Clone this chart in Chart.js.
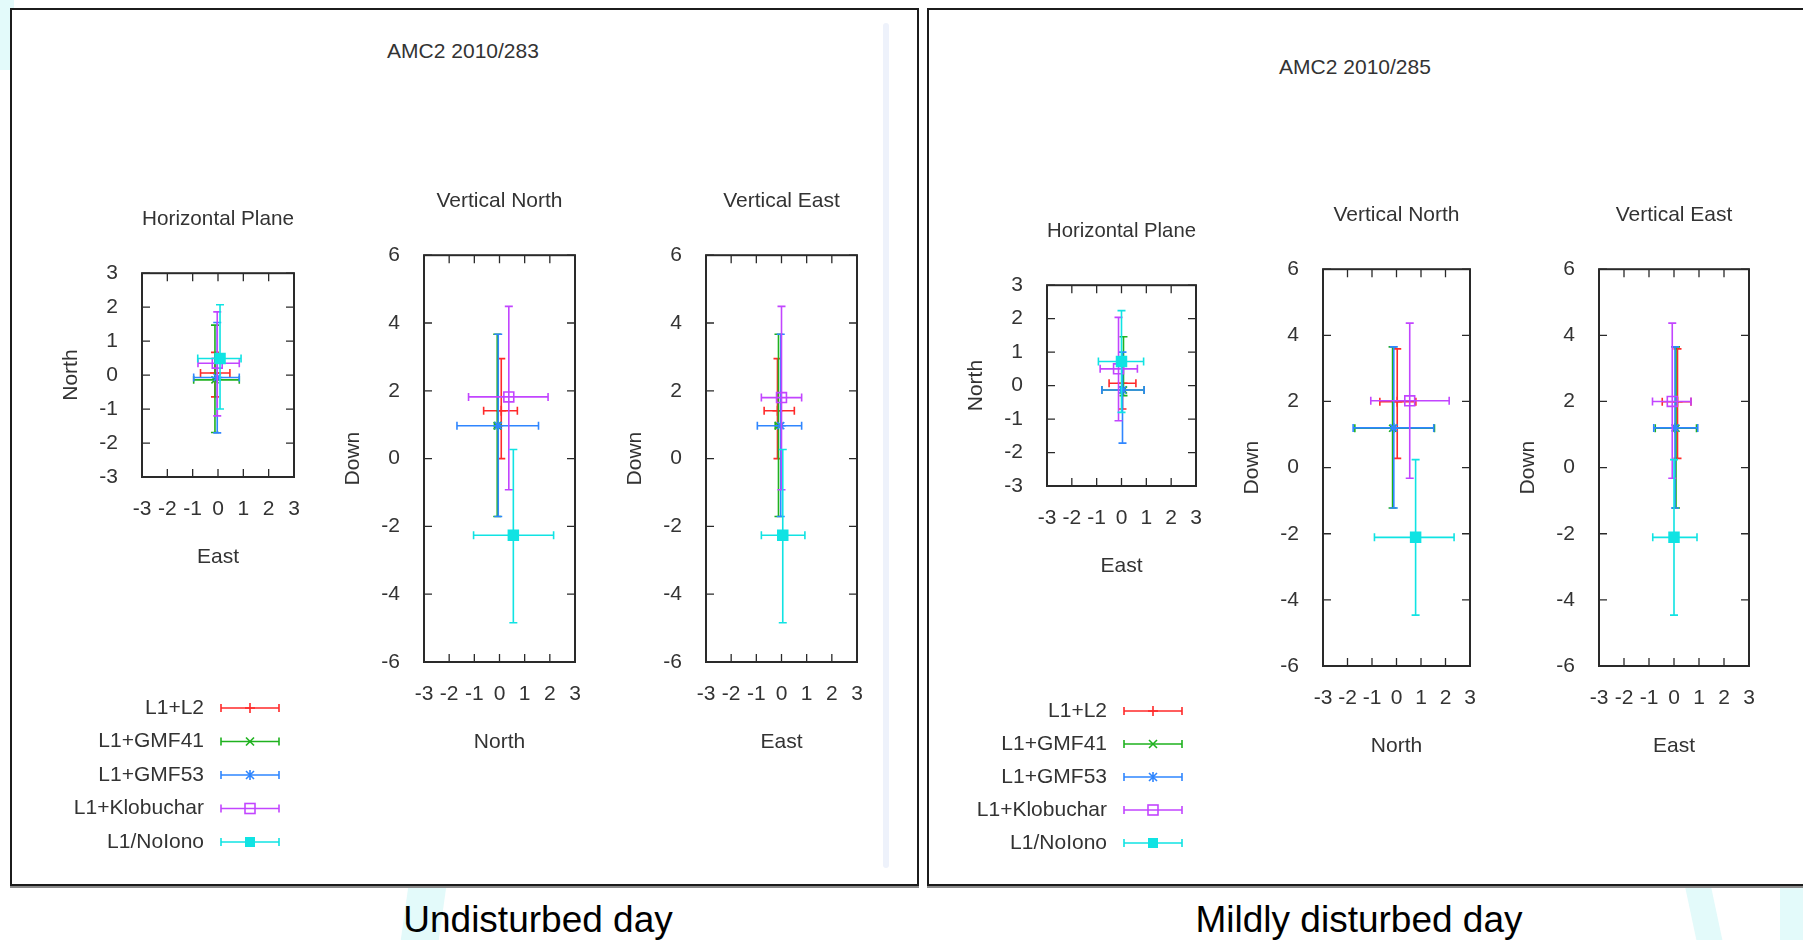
<!DOCTYPE html>
<html>
<head>
<meta charset="utf-8">
<title>AMC2 2010/283 vs 2010/285</title>
<script src="https://cdn.jsdelivr.net/npm/chart.js@4.4.0/dist/chart.umd.min.js"></script>
<style>
  body { margin: 0; width: 1803px; height: 940px; background: #fff; position: relative; overflow: hidden; }
  .panel { position: absolute; box-sizing: border-box; border: 2px solid #1c1c1c; box-shadow: 0 2px 0 #8a8a8a; background: #fff; }
  .blob { position: absolute; background: #e3fafa; }
  .scrollbar { position: absolute; left: 883px; top: 23px; width: 6px; height: 845px; background: #eef2fb; border-radius: 3px; }
  .ptitle { position: absolute; transform: translate(-50%, -50%); white-space: nowrap; color: #333;
            font: 21px "Liberation Sans", Arial, sans-serif; }
  .caption { position: absolute; transform: translate(-50%, -50%); white-space: nowrap; color: #000;
             font: 37px "Liberation Sans", Arial, sans-serif; }
  canvas { position: absolute; }
</style>
</head>
<body>
<div class="blob" style="left:0;top:0;width:14px;height:70px;"></div>
<div class="blob" style="left:405px;top:880px;width:38px;height:60px;transform:skewX(-8deg);"></div>
<div class="blob" style="left:1690px;top:880px;width:26px;height:60px;transform:skewX(12deg);"></div>
<div class="blob" style="left:1780px;top:860px;width:23px;height:80px;"></div>
<div class="panel" style="left:10px;top:8px;width:909px;height:878px;"></div>
<div class="panel" style="left:927px;top:8px;width:900px;height:878px;"></div>
<div class="scrollbar"></div>
<div class="ptitle" style="left:463px;top:51px;">AMC2 2010/283</div>
<div class="ptitle" style="left:1355px;top:67px;">AMC2 2010/285</div>
<div class="caption" style="left:538px;top:920px;">Undisturbed day</div>
<div class="caption" style="left:1359px;top:920px;">Mildly disturbed day</div>

<script>
const seriesNames = ['L1+L2', 'L1+GMF41', 'L1+GMF53', 'L1+Klobuchar', 'L1/NoIono'];
const seriesColors = ['#ff2a2a', '#1fb21f', '#2f86ff', '#c245ff', '#10e3e3'];
const pointStyles = ['cross', 'crossRot', 'star', 'rect', 'rect'];
const xTicks = [-3, -2, -1, 0, 1, 2, 3];
const hTicks = [-3, -2, -1, 0, 1, 2, 3];
const vTicks = [-6, -4, -2, 0, 2, 4, 6];

// day 283, horizontal plane (East vs North)
const h283East      = [-0.12, -0.12, -0.03, -0.03, 0.08];
const h283North     = [0.06, -0.14, -0.07, 0.35, 0.49];
const h283EastLow   = [-0.69, -0.96, -0.96, -0.79, -0.80];
const h283EastHigh  = [0.47, 0.84, 0.84, 0.84, 0.91];
const h283NorthLow  = [-0.64, -1.69, -1.70, -1.20, -1.00];
const h283NorthHigh = [0.67, 1.47, 1.55, 1.86, 2.07];

// day 283, vertical north (North vs Down)
const vn283North     = [0.07, -0.09, -0.05, 0.37, 0.55];
const vn283Down      = [1.41, 0.97, 0.97, 1.82, -2.26];
const vn283NorthLow  = [-0.63, -0.20, -1.69, -1.23, -1.03];
const vn283NorthHigh = [0.71, 0.05, 1.55, 1.93, 2.15];
const vn283DownLow   = [0.00, -1.71, -1.71, -0.92, -4.84];
const vn283DownHigh  = [2.95, 3.67, 3.67, 4.49, 0.27];

// day 283, vertical east (East vs Down)
const ve283East     = [-0.16, -0.12, -0.03, 0.00, 0.05];
const ve283Down     = [1.41, 0.97, 0.97, 1.80, -2.26];
const ve283EastLow  = [-0.69, -0.25, -0.96, -0.80, -0.80];
const ve283EastHigh = [0.51, 0.00, 0.80, 0.80, 0.93];
const ve283DownLow  = [0.00, -1.71, -1.71, -0.92, -4.84];
const ve283DownHigh = [2.95, 3.67, 3.67, 4.49, 0.27];

// day 285, horizontal plane
const h285East      = [0.04, 0.08, 0.04, -0.12, 0.00];
const h285North     = [0.07, -0.13, -0.13, 0.50, 0.72];
const h285EastLow   = [-0.50, -0.79, -0.79, -0.86, -0.93];
const h285EastHigh  = [0.58, 0.91, 0.91, 0.64, 0.89];
const h285NorthLow  = [-0.70, -0.30, -1.72, -1.05, -0.80];
const h285NorthHigh = [0.60, 1.46, 1.00, 2.04, 2.24];

// day 285, vertical north
const vn285North     = [0.03, -0.16, -0.11, 0.54, 0.78];
const vn285Down      = [1.99, 1.19, 1.20, 2.02, -2.11];
const vn285NorthLow  = [-0.68, -1.70, -1.77, -1.05, -0.90];
const vn285NorthHigh = [0.79, 1.55, 1.52, 2.15, 2.35];
const vn285DownLow   = [0.28, -1.22, -1.22, -0.32, -4.46];
const vn285DownHigh  = [3.59, 3.65, 3.65, 4.37, 0.24];

// day 285, vertical east
const ve285East     = [0.14, 0.08, 0.04, -0.07, 0.00];
const ve285Down     = [1.99, 1.19, 1.20, 2.00, -2.11];
const ve285EastLow  = [-0.47, -0.75, -0.81, -0.86, -0.85];
const ve285EastHigh = [0.68, 0.90, 0.95, 0.68, 0.92];
const ve285DownLow  = [0.28, -1.22, -1.22, -0.32, -4.46];
const ve285DownHigh = [3.59, 3.65, 3.65, 4.37, 0.24];

const FONT = '"Liberation Sans", Arial, sans-serif';
const TEXT = '#333';
const CAP = 4;
const AXIS_W = 95, AXIS_H = 95, TOP_H = 80, RIGHT_PAD = 20;

const makePoints = (x, y, xLo, xHi, yLo, yHi) =>
  x.map((v, i) => ({ x: v, y: y[i], xMin: xLo[i], xMax: xHi[i], yMin: yLo[i], yMax: yHi[i] }));

const plots = [
  { title: 'Horizontal Plane', xLabel: 'East', yLabel: 'North', yTicks: hTicks,
    box: { l: 142, t: 273, r: 294, b: 477 }, bottom: 870,
    legend: { textRight: 204, lineL: 221, lineR: 279, y0: 708, dy: 33.5 },
    pts: makePoints(h283East, h283North, h283EastLow, h283EastHigh, h283NorthLow, h283NorthHigh) },
  { title: 'Vertical North', xLabel: 'North', yLabel: 'Down', yTicks: vTicks,
    box: { l: 424, t: 255, r: 575, b: 662 },
    pts: makePoints(vn283North, vn283Down, vn283NorthLow, vn283NorthHigh, vn283DownLow, vn283DownHigh) },
  { title: 'Vertical East', xLabel: 'East', yLabel: 'Down', yTicks: vTicks,
    box: { l: 706, t: 255, r: 857, b: 662 },
    pts: makePoints(ve283East, ve283Down, ve283EastLow, ve283EastHigh, ve283DownLow, ve283DownHigh) },
  { title: 'Horizontal Plane', xLabel: 'East', yLabel: 'North', yTicks: hTicks,
    box: { l: 1047, t: 285, r: 1196, b: 486 }, bottom: 870,
    legend: { textRight: 1107, lineL: 1124, lineR: 1182, y0: 711, dy: 33 },
    pts: makePoints(h285East, h285North, h285EastLow, h285EastHigh, h285NorthLow, h285NorthHigh) },
  { title: 'Vertical North', xLabel: 'North', yLabel: 'Down', yTicks: vTicks,
    box: { l: 1323, t: 269, r: 1470, b: 666 },
    pts: makePoints(vn285North, vn285Down, vn285NorthLow, vn285NorthHigh, vn285DownLow, vn285DownHigh) },
  { title: 'Vertical East', xLabel: 'East', yLabel: 'Down', yTicks: vTicks,
    box: { l: 1599, t: 269, r: 1749, b: 666 },
    pts: makePoints(ve285East, ve285Down, ve285EastLow, ve285EastHigh, ve285DownLow, ve285DownHigh) }
];

// x/y error bars drawn under each dataset's markers
const errorBars = {
  id: 'errorBars',
  beforeDatasetDraw(chart, args) {
    const ds = chart.data.datasets[args.index];
    const xs = chart.scales.x, ys = chart.scales.y, ctx = chart.ctx;
    ctx.save();
    ctx.strokeStyle = ds.borderColor;
    ctx.lineWidth = 1.6;
    ctx.beginPath();
    ds.data.forEach(d => {
      const px = xs.getPixelForValue(d.x), py = ys.getPixelForValue(d.y);
      const x0 = xs.getPixelForValue(d.xMin), x1 = xs.getPixelForValue(d.xMax);
      const y0 = ys.getPixelForValue(d.yMin), y1 = ys.getPixelForValue(d.yMax);
      ctx.moveTo(x0, py); ctx.lineTo(x1, py);
      ctx.moveTo(x0, py - CAP); ctx.lineTo(x0, py + CAP);
      ctx.moveTo(x1, py - CAP); ctx.lineTo(x1, py + CAP);
      ctx.moveTo(px, y0); ctx.lineTo(px, y1);
      ctx.moveTo(px - CAP, y0); ctx.lineTo(px + CAP, y0);
      ctx.moveTo(px - CAP, y1); ctx.lineTo(px + CAP, y1);
    });
    ctx.stroke();
    ctx.restore();
  }
};

// gnuplot style border with mirrored inward ticks
const frame = {
  id: 'frame',
  beforeDatasetsDraw(chart) {
    const { ctx, chartArea: a, scales: { x, y } } = chart;
    ctx.save();
    ctx.strokeStyle = '#2a2a2a';
    ctx.lineWidth = 1.3;
    ctx.beginPath();
    x.ticks.forEach(t => {
      const p = x.getPixelForValue(t.value);
      ctx.moveTo(p, a.bottom); ctx.lineTo(p, a.bottom - 8);
      ctx.moveTo(p, a.top); ctx.lineTo(p, a.top + 8);
    });
    y.ticks.forEach(t => {
      const p = y.getPixelForValue(t.value);
      ctx.moveTo(a.left, p); ctx.lineTo(a.left + 8, p);
      ctx.moveTo(a.right, p); ctx.lineTo(a.right - 8, p);
    });
    ctx.stroke();
    ctx.lineWidth = 2;
    ctx.strokeRect(a.left, a.top, a.right - a.left, a.bottom - a.top);
    ctx.restore();
  }
};

const drawMarker = (ctx, style, x, y, color) => {
  ctx.strokeStyle = color;
  ctx.fillStyle = color;
  ctx.lineWidth = 1.6;
  ctx.beginPath();
  if (style === 'cross') {
    ctx.moveTo(x, y - 5); ctx.lineTo(x, y + 5);
    ctx.moveTo(x - 5, y); ctx.lineTo(x + 5, y);
    ctx.stroke();
  } else if (style === 'crossRot') {
    ctx.moveTo(x - 4, y - 4); ctx.lineTo(x + 4, y + 4);
    ctx.moveTo(x - 4, y + 4); ctx.lineTo(x + 4, y - 4);
    ctx.stroke();
  } else if (style === 'star') {
    ctx.moveTo(x, y - 5); ctx.lineTo(x, y + 5);
    ctx.moveTo(x - 4, y - 4); ctx.lineTo(x + 4, y + 4);
    ctx.moveTo(x - 4, y + 4); ctx.lineTo(x + 4, y - 4);
    ctx.stroke();
  } else if (style === 'open') {
    ctx.strokeRect(x - 5, y - 5, 10, 10);
  } else {
    ctx.fillRect(x - 5, y - 5, 10, 10);
  }
};

const keyBox = {
  id: 'keyBox',
  afterDraw(chart, args, opts) {
    if (!opts || !opts.textRight) return;
    const ctx = chart.ctx, ox = opts.originX, oy = opts.originY;
    ctx.save();
    ctx.font = '21px ' + FONT;
    ctx.textAlign = 'right';
    ctx.textBaseline = 'middle';
    chart.data.datasets.forEach((ds, i) => {
      const y = opts.y0 + i * opts.dy - oy;
      const l = opts.lineL - ox, r = opts.lineR - ox, m = (l + r) / 2;
      ctx.fillStyle = TEXT;
      ctx.fillText(ds.label, opts.textRight - ox, y);
      ctx.strokeStyle = ds.borderColor;
      ctx.lineWidth = 1.6;
      ctx.beginPath();
      ctx.moveTo(l, y); ctx.lineTo(r, y);
      ctx.moveTo(l, y - CAP); ctx.lineTo(l, y + CAP);
      ctx.moveTo(r, y - CAP); ctx.lineTo(r, y + CAP);
      ctx.stroke();
      drawMarker(ctx, ds.keyStyle, m, y, ds.borderColor);
    });
    ctx.restore();
  }
};

plots.forEach(p => {
  const b = p.box;
  const left = b.l - AXIS_W, top = b.t - TOP_H;
  const width = AXIS_W + (b.r - b.l) + RIGHT_PAD;
  const bottom = p.bottom || (b.b + AXIS_H);
  const height = bottom - top;
  const canvas = document.createElement('canvas');
  canvas.width = width;
  canvas.height = height;
  canvas.style.left = left + 'px';
  canvas.style.top = top + 'px';
  document.body.appendChild(canvas);

  const datasets = seriesNames.map((name, i) => ({
    label: name,
    data: [p.pts[i]],
    borderColor: seriesColors[i],
    backgroundColor: i === 3 ? 'rgba(0,0,0,0)' : seriesColors[i],
    pointStyle: pointStyles[i],
    pointRadius: i >= 3 ? 7 : 5,
    pointBorderWidth: 1.6,
    keyStyle: i === 3 ? 'open' : i === 4 ? 'filled' : pointStyles[i],
    order: 5 - i
  }));

  new Chart(canvas, {
    type: 'scatter',
    data: { datasets },
    options: {
      responsive: false,
      animation: false,
      events: [],
      layout: { padding: { top: 0, left: 0, right: RIGHT_PAD, bottom: bottom - b.b - AXIS_H } },
      plugins: {
        legend: { display: false },
        tooltip: { enabled: false },
        title: {
          display: true, text: p.title, color: TEXT, fullSize: false,
          font: { family: FONT, size: 21, weight: 'normal', lineHeight: 1.2 },
          padding: { top: 14, bottom: 41 }
        },
        keyBox: p.legend ? Object.assign({ originX: left, originY: top }, p.legend) : {}
      },
      scales: {
        x: {
          type: 'linear', min: -3, max: 3,
          afterBuildTicks: s => { s.ticks = xTicks.map(v => ({ value: v })); },
          afterFit: s => { s.height = AXIS_H; },
          grid: { display: false }, border: { display: false },
          ticks: { color: TEXT, padding: 12, maxRotation: 0, autoSkip: false, font: { family: FONT, size: 21 } },
          title: { display: true, text: p.xLabel, color: TEXT, padding: { top: 0, bottom: 2 },
                   font: { family: FONT, size: 21, lineHeight: 1.2 } }
        },
        y: {
          type: 'linear', min: p.yTicks[0], max: p.yTicks[p.yTicks.length - 1],
          afterBuildTicks: s => { s.ticks = p.yTicks.map(v => ({ value: v })); },
          afterFit: s => { s.width = AXIS_W; },
          grid: { display: false }, border: { display: false },
          ticks: { color: TEXT, padding: 16, autoSkip: false, font: { family: FONT, size: 21 } },
          title: { display: true, text: p.yLabel, color: TEXT, padding: { top: 12, bottom: 0 },
                   font: { family: FONT, size: 21, lineHeight: 1.2 } }
        }
      }
    },
    plugins: [frame, errorBars, keyBox]
  });
});
</script>
</body>
</html>
